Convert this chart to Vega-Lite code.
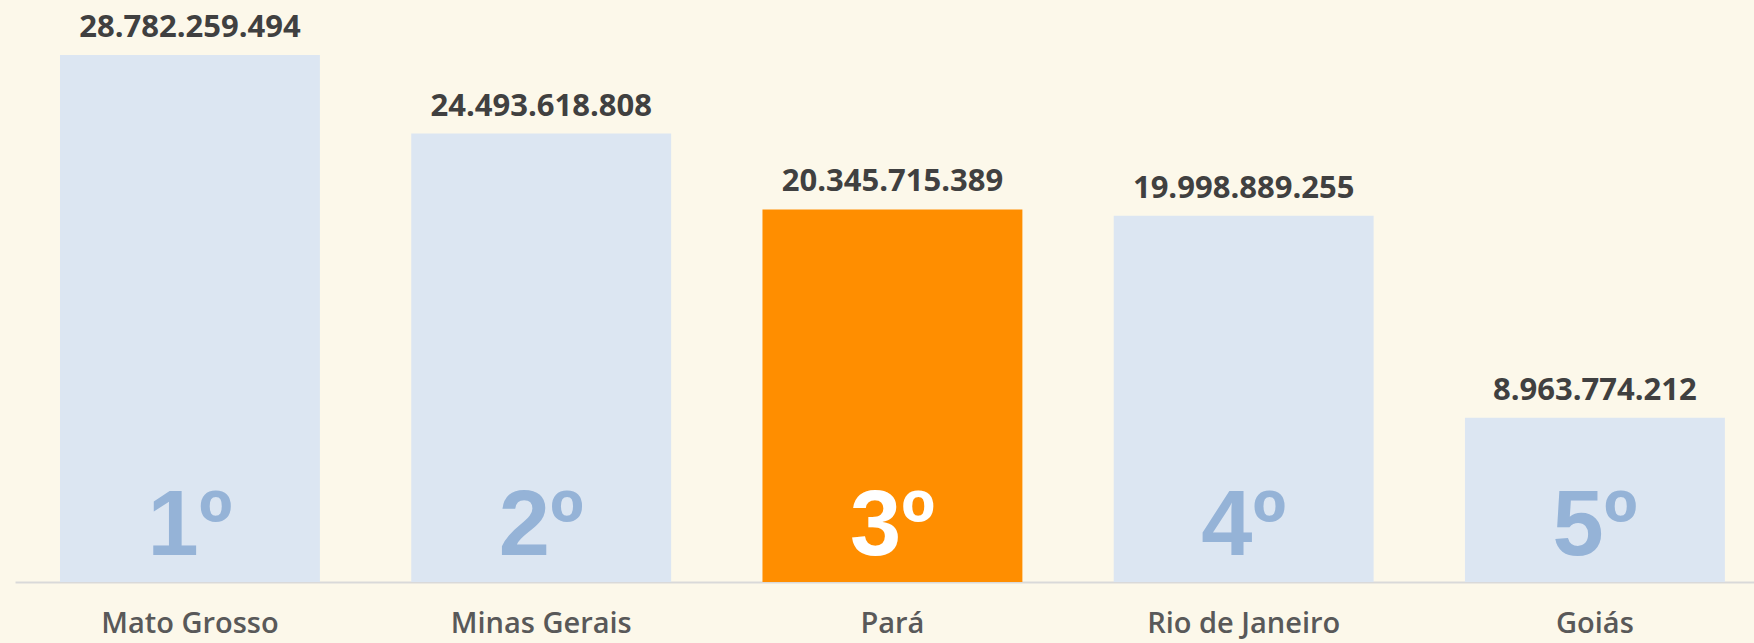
{
  "$schema": "https://vega.github.io/schema/vega-lite/v6.json",
  "width": 1739,
  "height": 582,
  "autosize": {"type": "none"},
  "padding": {"left": 15, "top": 0, "right": 0, "bottom": 61},
  "background": "#FCF8EA",
  "config": {"view": {"stroke": null}},
  "data": {
    "values": [
      {"estado": "Mato Grosso", "valor": 28782259494, "rotulo": "28.782.259.494", "rank": "1º", "destaque": "nao"},
      {"estado": "Minas Gerais", "valor": 24493618808, "rotulo": "24.493.618.808", "rank": "2º", "destaque": "nao"},
      {"estado": "Pará", "valor": 20345715389, "rotulo": "20.345.715.389", "rank": "3º", "destaque": "sim"},
      {"estado": "Rio de Janeiro", "valor": 19998889255, "rotulo": "19.998.889.255", "rank": "4º", "destaque": "nao"},
      {"estado": "Goiás", "valor": 8963774212, "rotulo": "8.963.774.212", "rank": "5º", "destaque": "nao"}
    ]
  },
  "encoding": {
    "x": {
      "field": "estado",
      "type": "nominal",
      "sort": null,
      "scale": {"paddingInner": 0.26, "paddingOuter": 0.1055, "align": 0.607},
      "axis": {
        "title": null,
        "domainColor": "#D9D9D9",
        "domainWidth": 2,
        "ticks": false,
        "tickSize": 0,
        "labelAngle": 0,
        "labelFont": "Open Sans",
        "labelFontSize": 29,
        "labelFontWeight": 600,
        "labelColor": "#595959",
        "labelBaseline": "alphabetic",
        "labelPadding": 50,
        "labelLimit": 0
      }
    }
  },
  "layer": [
    {
      "mark": {"type": "bar"},
      "encoding": {
        "y": {
          "field": "valor",
          "type": "quantitative",
          "scale": {"domain": [0, 31786000000], "nice": false},
          "axis": null
        },
        "color": {
          "field": "destaque",
          "type": "nominal",
          "scale": {"domain": ["nao", "sim"], "range": ["#DCE6F2", "#FF8E00"]},
          "legend": null
        }
      }
    },
    {
      "mark": {"type": "text", "font": "Open Sans", "fontWeight": "bold", "fontSize": 31, "color": "#404040", "baseline": "alphabetic", "dy": -18},
      "encoding": {
        "y": {"field": "valor", "type": "quantitative", "scale": {"domain": [0, 31786000000], "nice": false}},
        "text": {"field": "rotulo"}
      }
    },
    {
      "mark": {"type": "text", "font": "Liberation Sans", "fontWeight": "bold", "fontSize": 92, "baseline": "alphabetic", "dy": -27},
      "encoding": {
        "y": {"datum": 0, "type": "quantitative", "scale": {"domain": [0, 31786000000], "nice": false}},
        "text": {"field": "rank"},
        "color": {
          "field": "destaque",
          "type": "nominal",
          "scale": {"domain": ["nao", "sim"], "range": ["#95B3D7", "#FFFFFF"]},
          "legend": null
        }
      }
    }
  ],
  "resolve": {"scale": {"color": "independent"}}
}
